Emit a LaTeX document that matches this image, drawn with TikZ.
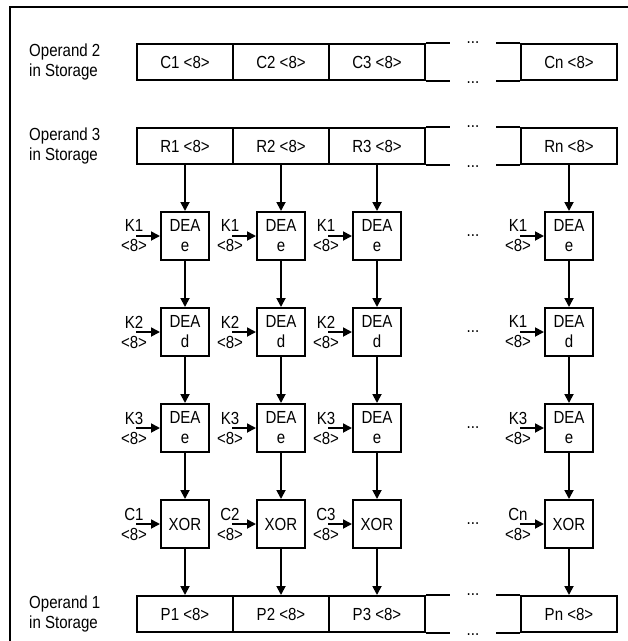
\documentclass[tikz,border=0pt]{standalone}
\usepackage{fontspec}
\setmainfont[FakeStretch=0.86]{Liberation Sans}
\usetikzlibrary{arrows.meta}

\begin{document}
\begin{tikzpicture}[
    x=1pt, y=-1pt,
    >={Triangle[length=9pt,width=9pt]},
    every node/.style={font=\fontsize{17.5}{20}\selectfont, inner sep=0pt},
    cell/.style={draw, line width=2pt, minimum width=96pt, minimum height=36pt},
    unit/.style={draw, line width=2pt, minimum size=48pt, align=center},
    keyin/.style={align=center},
    flow/.style={->, line width=1.8pt},
    gap/.style={line width=2pt}
]
\useasboundingbox (0,0) rectangle (628,641);

\def\xa{185}
\def\xb{281}
\def\xc{377}
\def\xn{569}
\def\xd{473}

% frame
\draw[line width=2pt] (10,641) -- (10,7) -- (628,7);

% operand 2
\node[anchor=west, align=left] (lc) at (29,62) {Operand 2\\in Storage};
\node[cell] (c1) at (\xa,62) {C1 <8>};
\node[cell] (c2) at (\xb,62) {C2 <8>};
\node[cell] (c3) at (\xc,62) {C3 <8>};
\node[cell] (cn) at (\xn,62) {Cn <8>};
\draw[gap] (c3.north east) -- ++(24,0);
\draw[gap] (c3.south east) -- ++(24,0);
\draw[gap] (cn.north west) -- ++(-24,0);
\draw[gap] (cn.south west) -- ++(-24,0);
\node[anchor=base] (dct) at (\xd,43) {...};
\node[anchor=base] (dcb) at (\xd,83) {...};

% operand 3
\node[anchor=west, align=left] (lr) at (29,146) {Operand 3\\in Storage};
\node[cell] (r1) at (\xa,146) {R1 <8>};
\node[cell] (r2) at (\xb,146) {R2 <8>};
\node[cell] (r3) at (\xc,146) {R3 <8>};
\node[cell] (rn) at (\xn,146) {Rn <8>};
\draw[gap] (r3.north east) -- ++(24,0);
\draw[gap] (r3.south east) -- ++(24,0);
\draw[gap] (rn.north west) -- ++(-24,0);
\draw[gap] (rn.south west) -- ++(-24,0);
\node[anchor=base] (drt) at (\xd,127) {...};
\node[anchor=base] (drb) at (\xd,167) {...};

% DEA e (K1)
\node[unit] (e1a) at (\xa,236) {DEA\\e};
\node[unit] (e1b) at (\xb,236) {DEA\\e};
\node[unit] (e1c) at (\xc,236) {DEA\\e};
\node[unit] (e1n) at (\xn,236) {DEA\\e};
\node[keyin] (k1a) at (\xa-51,236) {K1\\<8>};
\node[keyin] (k1b) at (\xb-51,236) {K1\\<8>};
\node[keyin] (k1c) at (\xc-51,236) {K1\\<8>};
\node[keyin] (k1n) at (\xn-51,236) {K1\\<8>};
\node[anchor=base] (dots1) at (\xd,236) {...};

% DEA d (K2)
\node[unit] (d2a) at (\xa,332) {DEA\\d};
\node[unit] (d2b) at (\xb,332) {DEA\\d};
\node[unit] (d2c) at (\xc,332) {DEA\\d};
\node[unit] (d2n) at (\xn,332) {DEA\\d};
\node[keyin] (k2a) at (\xa-51,332) {K2\\<8>};
\node[keyin] (k2b) at (\xb-51,332) {K2\\<8>};
\node[keyin] (k2c) at (\xc-51,332) {K2\\<8>};
\node[keyin] (k2n) at (\xn-51,332) {K1\\<8>};
\node[anchor=base] (dots2) at (\xd,332) {...};

% DEA e (K3)
\node[unit] (e3a) at (\xa,428) {DEA\\e};
\node[unit] (e3b) at (\xb,428) {DEA\\e};
\node[unit] (e3c) at (\xc,428) {DEA\\e};
\node[unit] (e3n) at (\xn,428) {DEA\\e};
\node[keyin] (k3a) at (\xa-51,428) {K3\\<8>};
\node[keyin] (k3b) at (\xb-51,428) {K3\\<8>};
\node[keyin] (k3c) at (\xc-51,428) {K3\\<8>};
\node[keyin] (k3n) at (\xn-51,428) {K3\\<8>};
\node[anchor=base] (dots3) at (\xd,428) {...};

% XOR with Ci
\node[unit] (xora) at (\xa,524) {XOR};
\node[unit] (xorb) at (\xb,524) {XOR};
\node[unit] (xorc) at (\xc,524) {XOR};
\node[unit] (xorn) at (\xn,524) {XOR};
\node[keyin] (k4a) at (\xa-51,524) {C1\\<8>};
\node[keyin] (k4b) at (\xb-51,524) {C2\\<8>};
\node[keyin] (k4c) at (\xc-51,524) {C3\\<8>};
\node[keyin] (k4n) at (\xn-51,524) {Cn\\<8>};
\node[anchor=base] (dots4) at (\xd,524) {...};

% operand 1
\node[anchor=west, align=left] (lp) at (29,614) {Operand 1\\in Storage};
\node[cell] (p1) at (\xa,614) {P1 <8>};
\node[cell] (p2) at (\xb,614) {P2 <8>};
\node[cell] (p3) at (\xc,614) {P3 <8>};
\node[cell] (pn) at (\xn,614) {Pn <8>};
\draw[gap] (p3.north east) -- ++(24,0);
\draw[gap] (p3.south east) -- ++(24,0);
\draw[gap] (pn.north west) -- ++(-24,0);
\draw[gap] (pn.south west) -- ++(-24,0);
\node[anchor=base] (dpt) at (\xd,595) {...};
\node[anchor=base] (dpb) at (\xd,635) {...};

% columns
\draw[flow] (r1) -- (e1a);
\draw[flow] (r2) -- (e1b);
\draw[flow] (r3) -- (e1c);
\draw[flow] (rn) -- (e1n);
\draw[flow] (e1a) -- (d2a);
\draw[flow] (e1b) -- (d2b);
\draw[flow] (e1c) -- (d2c);
\draw[flow] (e1n) -- (d2n);
\draw[flow] (d2a) -- (e3a);
\draw[flow] (d2b) -- (e3b);
\draw[flow] (d2c) -- (e3c);
\draw[flow] (d2n) -- (e3n);
\draw[flow] (e3a) -- (xora);
\draw[flow] (e3b) -- (xorb);
\draw[flow] (e3c) -- (xorc);
\draw[flow] (e3n) -- (xorn);
\draw[flow] (xora) -- (p1);
\draw[flow] (xorb) -- (p2);
\draw[flow] (xorc) -- (p3);
\draw[flow] (xorn) -- (pn);

% keys in
\draw[flow] ([xshift=2pt]k1a.center) -- (e1a);
\draw[flow] ([xshift=2pt]k1b.center) -- (e1b);
\draw[flow] ([xshift=2pt]k1c.center) -- (e1c);
\draw[flow] ([xshift=2pt]k1n.center) -- (e1n);
\draw[flow] ([xshift=2pt]k2a.center) -- (d2a);
\draw[flow] ([xshift=2pt]k2b.center) -- (d2b);
\draw[flow] ([xshift=2pt]k2c.center) -- (d2c);
\draw[flow] ([xshift=2pt]k2n.center) -- (d2n);
\draw[flow] ([xshift=2pt]k3a.center) -- (e3a);
\draw[flow] ([xshift=2pt]k3b.center) -- (e3b);
\draw[flow] ([xshift=2pt]k3c.center) -- (e3c);
\draw[flow] ([xshift=2pt]k3n.center) -- (e3n);
\draw[flow] ([xshift=2pt]k4a.center) -- (xora);
\draw[flow] ([xshift=2pt]k4b.center) -- (xorb);
\draw[flow] ([xshift=2pt]k4c.center) -- (xorc);
\draw[flow] ([xshift=2pt]k4n.center) -- (xorn);

\end{tikzpicture}
\end{document}
